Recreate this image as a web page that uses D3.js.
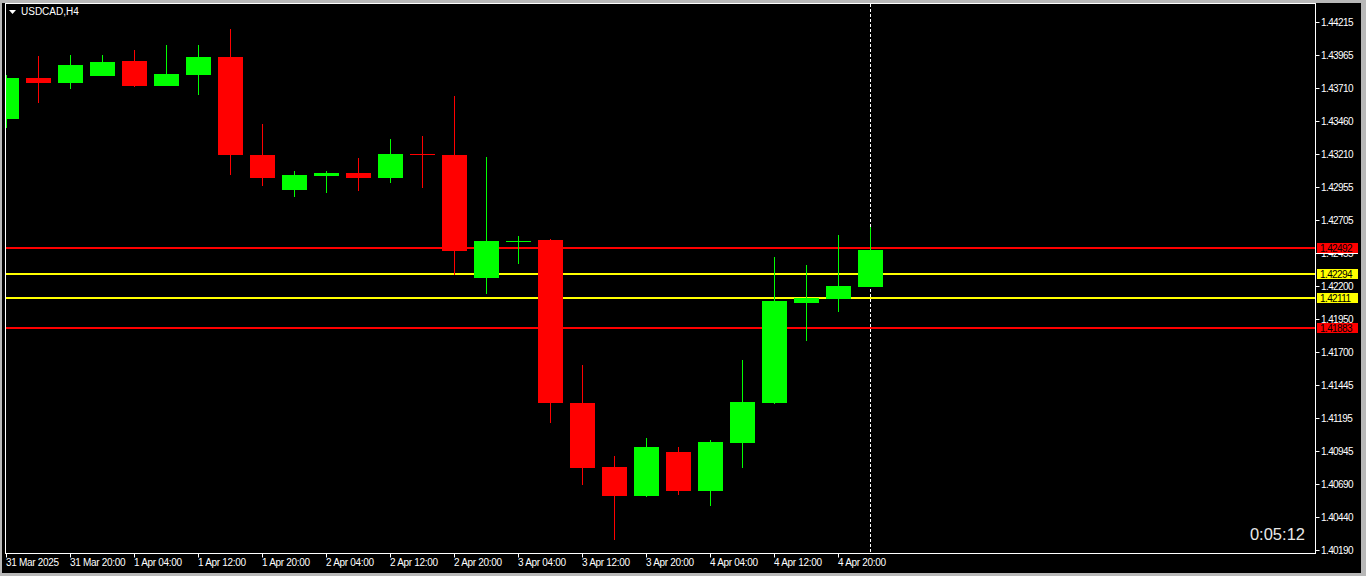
<!DOCTYPE html>
<meta charset="utf-8">
<style>
    body {
        margin: 0;
        background: #b8b8b8;
        overflow: hidden;
    }
    svg {
        display: block;
        font-family: "Liberation Sans", Arial, sans-serif;
    }
    .axis text {
        fill: #ffffff;
        font-size: 10px;
    }
</style>
<body>
<script src="https://cdnjs.cloudflare.com/ajax/libs/d3/7.8.5/d3.min.js"></script>
<script>
    // USDCAD H4 - one entry per bar, left to right
    const opens  = [1.43476, 1.43788, 1.43750, 1.43803, 1.43918, 1.43727, 1.43811, 1.43948, 1.43201, 1.42934,
                    1.43041, 1.43064, 1.43026, 1.43209, 1.43201, 1.42264, 1.42538, 1.42553, 1.41311, 1.40823,
                    1.40602, 1.40937, 1.40640, 1.41006, 1.41311, 1.42073, 1.42103, 1.42195];
    const highs  = [1.43811, 1.43956, 1.43963, 1.43963, 1.44002, 1.44040, 1.44040, 1.44162, 1.43437, 1.43079,
                    1.43079, 1.43178, 1.43323, 1.43346, 1.43651, 1.43186, 1.42584, 1.42561, 1.41600, 1.40907,
                    1.41044, 1.40975, 1.41029, 1.41638, 1.42424, 1.42363, 1.42591, 1.42652];
    const lows   = [1.43407, 1.43598, 1.43704, 1.43803, 1.43719, 1.43727, 1.43659, 1.43049, 1.42965, 1.42881,
                    1.42911, 1.42927, 1.42988, 1.42950, 1.42286, 1.42142, 1.42370, 1.41158, 1.40686, 1.40266,
                    1.40594, 1.40609, 1.40525, 1.40815, 1.41303, 1.41783, 1.42004, 1.42195];
    const closes = [1.43788, 1.43750, 1.43887, 1.43910, 1.43727, 1.43819, 1.43948, 1.43201, 1.43026, 1.43049,
                    1.43064, 1.43026, 1.43209, 1.43201, 1.42469, 1.42546, 1.42546, 1.41311, 1.40815, 1.40602,
                    1.40975, 1.40640, 1.41013, 1.41318, 1.42088, 1.42111, 1.42203, 1.42477];

    // time labels, one every second bar
    const timeLabels = ["31 Mar 2025", "31 Mar 20:00", "1 Apr 04:00", "1 Apr 12:00", "1 Apr 20:00",
                        "2 Apr 04:00", "2 Apr 12:00", "2 Apr 20:00", "3 Apr 04:00", "3 Apr 12:00",
                        "3 Apr 20:00", "4 Apr 04:00", "4 Apr 12:00", "4 Apr 20:00"];

    const priceTicks = [1.44215, 1.43965, 1.43710, 1.43460, 1.43210, 1.42955, 1.42705, 1.42455,
                        1.42200, 1.41950, 1.41700, 1.41445, 1.41195, 1.40945, 1.40690, 1.40440, 1.40190];

    // horizontal levels drawn on the chart
    const levelPrices = [1.42492, 1.42294, 1.42111, 1.41883];
    const levelColors = ["#ff0000", "#ffff00", "#ffff00", "#ff0000"];

    const symbol = "USDCAD,H4";
    const timer = "0:05:12";
    const cursorBar = 27;

    const width = 1366, height = 576;
    const plot = {left: 5.5, top: 3.5, right: 1315.5, bottom: 553.5};

    const svg = d3.select("body").append("svg")
        .attr("width", width)
        .attr("height", height);

    // window background
    svg.append("rect")
        .attr("x", 2).attr("y", 3)
        .attr("width", 1359).attr("height", 570)
        .attr("fill", "#000");

    const x = d3.scaleLinear().domain([0, closes.length - 1]).range([6.5, 870.5]);
    const y = d3.scaleLinear().domain([1.40190, 1.44215]).range([550, 22]);

    svg.append("clipPath").attr("id", "clip")
        .append("rect")
        .attr("x", plot.left + 0.5).attr("y", plot.top + 0.5)
        .attr("width", plot.right - plot.left - 1)
        .attr("height", plot.bottom - plot.top - 1);

    const chart = svg.append("g").attr("clip-path", "url(#clip)")
        .attr("shape-rendering", "crispEdges");

    // level lines
    chart.selectAll(".level")
        .data(levelPrices)
        .enter().append("line")
        .attr("class", "level")
        .attr("x1", plot.left).attr("x2", plot.right)
        .attr("y1", d => y(d)).attr("y2", d => y(d))
        .attr("stroke", (d, i) => levelColors[i])
        .attr("stroke-width", 2);

    // cursor line
    chart.append("line")
        .attr("x1", x(cursorBar)).attr("x2", x(cursorBar))
        .attr("y1", plot.top).attr("y2", plot.bottom)
        .attr("stroke", "#fff")
        .attr("stroke-dasharray", "3,2");

    const bars = d3.range(closes.length);
    const bodyW = 25;
    const colorOf = i => closes[i] >= opens[i] ? "#00ff00" : "#ff0000";

    // wicks
    chart.selectAll(".wick")
        .data(bars)
        .enter().append("line")
        .attr("class", "wick")
        .attr("x1", i => Math.floor(x(i)) + 0.5).attr("x2", i => Math.floor(x(i)) + 0.5)
        .attr("y1", i => Math.round(y(highs[i])))
        .attr("y2", i => Math.round(y(lows[i])))
        .attr("stroke", colorOf)
        .attr("stroke-width", 1);

    // bodies
    chart.selectAll(".body")
        .data(bars)
        .enter().append("rect")
        .attr("class", "body")
        .attr("x", i => x(i) - bodyW / 2)
        .attr("width", bodyW)
        .attr("y", i => Math.round(y(Math.max(opens[i], closes[i]))))
        .attr("height", i => Math.max(1, Math.round(y(Math.min(opens[i], closes[i]))) - Math.round(y(Math.max(opens[i], closes[i])))))
        .attr("fill", colorOf);

    // frame
    svg.append("rect")
        .attr("x", plot.left).attr("y", plot.top)
        .attr("width", plot.right - plot.left)
        .attr("height", plot.bottom - plot.top)
        .attr("fill", "none")
        .attr("stroke", "#fff")
        .attr("shape-rendering", "crispEdges");

    // price axis
    const yAxis = svg.append("g").attr("class", "axis");
    yAxis.selectAll("line")
        .data(priceTicks)
        .enter().append("line")
        .attr("x1", plot.right).attr("x2", plot.right + 4)
        .attr("y1", d => Math.round(y(d)) + 0.5).attr("y2", d => Math.round(y(d)) + 0.5)
        .attr("stroke", "#fff");
    yAxis.selectAll("text")
        .data(priceTicks)
        .enter().append("text")
        .attr("x", 1321)
        .attr("y", d => y(d) + 4)
        .style("letter-spacing", "-0.6px")
        .text(d => d.toFixed(5));

    // bid marker under the top level label
    svg.append("rect")
        .attr("x", 1317).attr("y", Math.round(y(closes[closes.length - 1])) + 2)
        .attr("width", 41).attr("height", 2)
        .attr("fill", "#fff");

    // level labels
    const tags = svg.selectAll(".tag")
        .data(levelPrices)
        .enter().append("g")
        .attr("class", "tag")
        .attr("transform", d => `translate(1317,${Math.round(y(d)) - 5})`);
    tags.append("rect")
        .attr("width", 41).attr("height", 10)
        .attr("fill", (d, i) => levelColors[i]);
    tags.append("text")
        .attr("x", 3).attr("y", 9)
        .attr("font-size", "10px")
        .style("letter-spacing", "-0.6px")
        .attr("fill", "#000")
        .text(d => d.toFixed(5));

    // time axis
    const xAxis = svg.append("g").attr("class", "axis");
    const tickBars = timeLabels.map((d, i) => i * 2);
    xAxis.selectAll("line")
        .data(tickBars)
        .enter().append("line")
        .attr("x1", i => Math.floor(x(i)) + 0.5).attr("x2", i => Math.floor(x(i)) + 0.5)
        .attr("y1", plot.bottom).attr("y2", plot.bottom + 4)
        .attr("stroke", "#fff");
    xAxis.selectAll("text")
        .data(tickBars)
        .enter().append("text")
        .attr("x", i => Math.floor(x(i)))
        .attr("y", 566)
        .style("letter-spacing", "-0.3px")
        .text((d, i) => timeLabels[i]);

    // symbol title
    svg.append("path")
        .attr("d", "M9,10 L16,10 L12.5,14 Z")
        .attr("fill", "#fff");
    svg.append("text")
        .attr("x", 21).attr("y", 15)
        .attr("font-size", "10px")
        .attr("fill", "#fff")
        .text(symbol);

    // bar countdown
    svg.append("text")
        .attr("x", 1305).attr("y", 540)
        .attr("text-anchor", "end")
        .attr("font-size", "16.5px")
        .attr("fill", "#e8e8e8")
        .text(timer);
</script>
</body>
</html>
